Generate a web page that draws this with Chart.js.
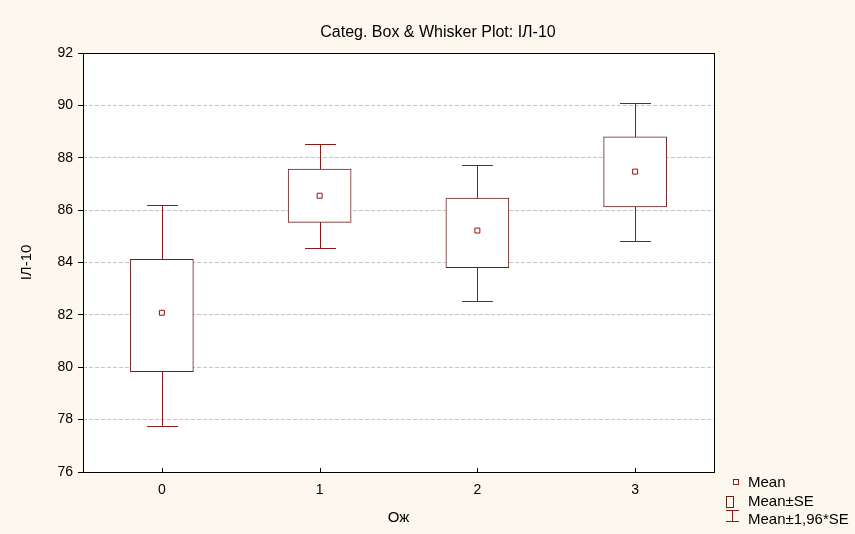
<!DOCTYPE html>
<html>
<head>
<meta charset="utf-8">
<script src="https://cdn.jsdelivr.net/npm/chart.js@4/dist/chart.umd.min.js"></script>
<style>
  html, body { margin: 0; padding: 0; background: #fdf8ee; }
  #wrap { width: 855px; height: 534px; }
</style>
</head>
<body>
<div id="wrap"><canvas id="c"></canvas></div>
<script>
// Values
const categories = [0, 1, 2, 3];
const means = [82.08, 86.55, 85.22, 87.47];
const seLow = [79.83, 85.53, 83.80, 86.12];
const seHigh = [84.12, 87.57, 86.46, 88.80];
const ciLow = [77.75, 84.57, 82.53, 84.82];
const ciHigh = [86.19, 88.52, 87.72, 90.09];
const yTicks = [76, 78, 80, 82, 84, 86, 88, 90, 92];
const chartTitle = 'Categ. Box & Whisker Plot: ІЛ-10';

const FONT = 'Arial, "Liberation Sans", sans-serif';
const MAROON = '#8b1a1a';
const BOX_EDGE = '#6a1f1f';

// cream page, white plot area, black frame, title
const framePlugin = {
  id: 'frame',
  beforeDraw(chart) {
    const { ctx, chartArea: a } = chart;
    ctx.save();
    ctx.fillStyle = '#fdf8ee';
    ctx.fillRect(0, 0, chart.width, chart.height);
    ctx.fillStyle = '#ffffff';
    ctx.fillRect(a.left, a.top, a.right - a.left, a.bottom - a.top);
    ctx.fillStyle = '#000';
    ctx.font = '16px ' + FONT;
    ctx.textAlign = 'center';
    ctx.textBaseline = 'middle';
    ctx.fillText(chartTitle, 438, 33);
    ctx.restore();
  },
  afterDraw(chart) {
    const { ctx, chartArea: a } = chart;
    const xs = chart.scales.x;
    ctx.save();
    ctx.strokeStyle = '#000';
    ctx.lineWidth = 1;
    ctx.strokeRect(Math.round(a.left) + 0.5, Math.round(a.top) + 0.5,
      Math.round(a.right - a.left), Math.round(a.bottom - a.top));
    // small inward tick marks on x axis
    for (const c of categories) {
      const x = Math.round(xs.getPixelForValue(c)) + 0.5;
      ctx.beginPath();
      ctx.moveTo(x, a.bottom);
      ctx.lineTo(x, a.bottom - 4);
      ctx.stroke();
    }
    ctx.restore();
  }
};

// whiskers (Mean±1,96*SE), drawn under the boxes
const whiskerPlugin = {
  id: 'whiskers',
  beforeDatasetsDraw(chart) {
    const { ctx } = chart;
    const xs = chart.scales.x, ys = chart.scales.y;
    const capHalf = 15.5;
    ctx.save();
    ctx.strokeStyle = MAROON;
    ctx.lineWidth = 1;
    categories.forEach((c, i) => {
      const x = Math.round(xs.getPixelForValue(c)) + 0.5;
      const yTop = Math.round(ys.getPixelForValue(ciHigh[i])) + 0.5;
      const yBot = Math.round(ys.getPixelForValue(ciLow[i])) + 0.5;
      ctx.beginPath();
      ctx.moveTo(x, yTop); ctx.lineTo(x, yBot);
      ctx.moveTo(x - capHalf, yTop); ctx.lineTo(x + capHalf, yTop);
      ctx.moveTo(x - capHalf, yBot); ctx.lineTo(x + capHalf, yBot);
      ctx.stroke();
    });
    ctx.restore();
  }
};

// legend in the bottom right corner
const legendPlugin = {
  id: 'boxLegend',
  afterDraw(chart) {
    const { ctx } = chart;
    const tx = 748;
    ctx.save();
    ctx.font = '15px ' + FONT;
    ctx.textBaseline = 'middle';
    ctx.lineWidth = 1;
    // Mean
    ctx.fillStyle = '#fff';
    ctx.fillRect(733.5, 479.5, 5, 5);
    ctx.strokeStyle = '#9b1010';
    ctx.strokeRect(733.5, 479.5, 5, 5);
    ctx.fillStyle = '#000';
    ctx.fillText('Mean', tx, 483);
    // Mean±SE
    ctx.strokeStyle = BOX_EDGE;
    ctx.strokeRect(726.5, 496.5, 7, 11);
    ctx.fillText('Mean\u00b1SE', tx, 502);
    // Mean±1,96*SE
    ctx.strokeStyle = MAROON;
    ctx.beginPath();
    ctx.moveTo(726, 510.5); ctx.lineTo(739, 510.5);
    ctx.moveTo(732.5, 510.5); ctx.lineTo(732.5, 521.5);
    ctx.moveTo(726, 521.5); ctx.lineTo(739, 521.5);
    ctx.stroke();
    ctx.fillText('Mean\u00b11,96*SE', tx, 520);
    ctx.restore();
  }
};

new Chart(document.getElementById('c'), {
  data: {
    datasets: [
      {
        type: 'bar',
        label: 'Mean±SE',
        data: categories.map((c, i) => ({ x: c, y: [seLow[i], seHigh[i]] })),
        backgroundColor: '#ffffff',
        borderColor: BOX_EDGE,
        borderWidth: 1,
        borderSkipped: false,
        barThickness: 63,
        order: 2,
      },
      {
        type: 'scatter',
        label: 'Mean',
        data: categories.map((c, i) => ({ x: c, y: means[i] })),
        pointStyle: 'rect',
        pointRadius: 3.5,
        pointBackgroundColor: '#ffffff',
        pointBorderColor: '#9b1010',
        pointBorderWidth: 1,
        order: 1,
      },
    ],
  },
  plugins: [framePlugin, whiskerPlugin, legendPlugin],
  options: {
    responsive: true,
    maintainAspectRatio: false,
    animation: false,
    devicePixelRatio: 1,
    layout: { padding: { left: 0, right: 141, top: 53, bottom: 0 } },
    scales: {
      x: {
        type: 'linear',
        offset: false,
        min: -0.5,
        max: 3.5,
        afterBuildTicks: s => { s.ticks = categories.map(v => ({ value: v })); },
        afterFit: s => { s.height = 62; },
        ticks: { color: '#000', font: { size: 14, family: FONT }, padding: 10 },
        grid: { display: false, drawTicks: false, offset: false },
        border: { display: false },
        title: { display: true, text: 'Ож', color: '#000', font: { size: 15, family: FONT }, padding: { top: 0, bottom: 7 } },
      },
      y: {
        min: 76,
        max: 92,
        afterBuildTicks: s => { s.ticks = yTicks.map(v => ({ value: v })); },
        afterFit: s => { s.width = 83; },
        ticks: { color: '#000', font: { size: 14, family: FONT }, padding: 5 },
        grid: {
          color: c => (c.tick && (c.tick.value === 76 || c.tick.value === 92)) ? 'rgba(0,0,0,0)' : '#c4c4c4',
          tickColor: '#000',
          tickLength: 5,
          drawTicks: true,
        },
        border: { display: false, dash: [4, 2] },
        title: { display: true, text: 'ІЛ-10', color: '#000', font: { size: 15, family: FONT }, padding: { top: 18, bottom: 0 } },
      },
    },
    plugins: {
      legend: { display: false },
      tooltip: { enabled: false },
      title: { display: false },
    },
  },
});
</script>
</body>
</html>
